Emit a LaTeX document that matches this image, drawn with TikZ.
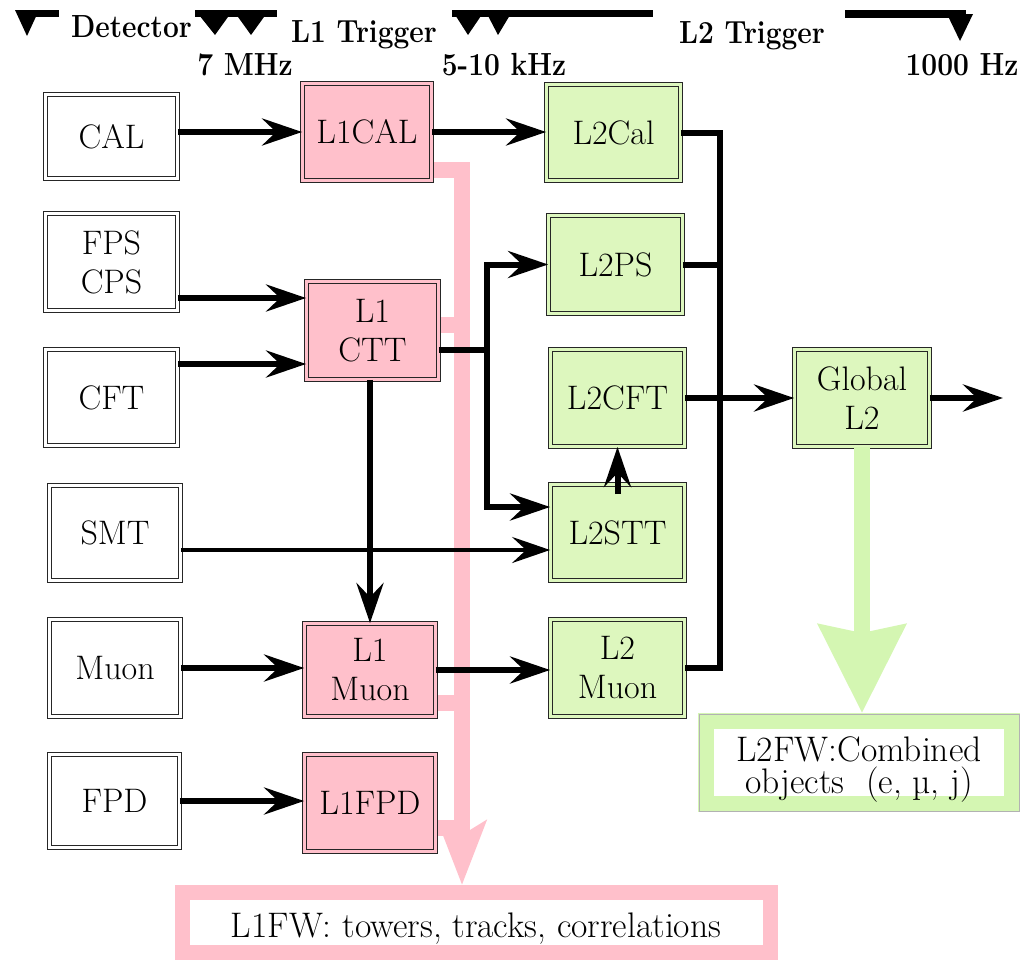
\documentclass[tikz,border=0pt]{standalone}
\usepackage{graphicx}
\usetikzlibrary{arrows.meta}
\definecolor{pinkc}{RGB}{255,192,203}
\definecolor{greenc}{RGB}{221,247,190}
\definecolor{greenb}{RGB}{212,246,178}
\newcommand\hdrtext[1]{\scalebox{0.88}[1]{#1}}
\begin{document}
\begin{tikzpicture}[x=1pt,y=-1pt,
  box/.style={draw=black!85, line width=1.2pt, double distance=3pt, inner sep=0pt, align=center, font=\fontsize{34}{39}\selectfont},
  wbox/.style={box, fill=white, double=white},
  pbox/.style={box, fill=pinkc, double=pinkc},
  gbox/.style={box, fill=greenc, double=greenc},
  arr/.style={line width=6pt, -{Stealth[length=40pt,width=27pt,inset=14pt]}},
  arrthin/.style={line width=4pt, -{Stealth[length=38pt,width=26pt,inset=14pt]}},
  wire/.style={line width=6pt, line join=miter},
  pinkbus/.style={pinkc, line width=16pt, line join=miter},
  hdr/.style={font=\fontsize{32}{36}\selectfont\bfseries, inner sep=0pt, anchor=base},
  fw/.style={inner sep=0pt, fill=white},
  fwtext/.style={inner sep=0pt, align=center, font=\fontsize{35.5}{32}\selectfont}
]
\useasboundingbox (0,0) rectangle (1026,969);

% header
\fill (18,10) rectangle (59,17);
\fill (15,10) -- (39,10) -- (27,36) -- cycle;
\fill (195,10) rectangle (277,17);
\fill (195,10) -- (233,10) -- (215,35) -- cycle;
\fill (233,10) -- (269,10) -- (251,35) -- cycle;
\fill (452,10) rectangle (653,17);
\fill (452,10) -- (485,10) -- (468,35) -- cycle;
\fill (485,10) -- (513,10) -- (498,35) -- cycle;
\fill (845,10) rectangle (966,18);
\fill (947,14) -- (973,14) -- (960,41) -- cycle;
\node[hdr] (hdet) at (131.5,37) {\hdrtext{Detector}};
\node[hdr] (hl1) at (364,42) {\hdrtext{L1 Trigger}};
\node[hdr] (hl2) at (752,43) {\hdrtext{L2 Trigger}};
\node[hdr] (f1) at (245,75) {\hdrtext{7 MHz}};
\node[hdr] (f2) at (504,75) {\hdrtext{5-10 kHz}};
\node[hdr] (f3) at (962,75) {\hdrtext{1000 Hz}};

% framework boxes
\node[fw, draw=pinkc, line width=15pt, minimum width=588pt, minimum height=60pt, outer sep=7.5pt] (L1FW) at (476.5,922.5) {};
\node[fwtext] (L1FWt) at (476,929) {L1FW: towers, tracks, correlations};
\node[fw, draw=greenb, line width=16pt, minimum width=306pt, minimum height=83pt, outer sep=8pt] (L2FW) at (859,762.5) {};
\draw[gray!60, line width=0.8pt] ([xshift=1pt,yshift=-1pt]L2FW.north west) rectangle ([xshift=-1pt,yshift=1pt]L2FW.south east);
\node[fwtext] (L2FWt) at (859,770) {L2FW:Combined\\objects~~(e, µ, j)};

% nodes
\node[wbox, minimum width=131.6pt, minimum height=83.6pt] (CAL) at (111.5,136.5) {CAL};
\node[wbox, minimum width=131.6pt, minimum height=96.6pt] (FPS) at (111.5,262) {FPS\\CPS};
\node[wbox, minimum width=131.6pt, minimum height=95.6pt] (CFT) at (111.5,397.5) {CFT};
\node[wbox, minimum width=130.6pt, minimum height=94.6pt] (SMT) at (115,533) {SMT};
\node[wbox, minimum width=130.6pt, minimum height=96.6pt] (Muon) at (115,668) {Muon};
\node[wbox, minimum width=129.6pt, minimum height=92.6pt] (FPD) at (114.5,801) {FPD};

\coordinate (bx) at (462,0);
% pink bus (behind boxes)
\draw[pinkbus, -{Stealth[length=64pt,width=48pt,inset=14pt]}] (434,170) -| (L1FW.north -| bx);
\draw[pinkbus] (438,325) -- (bx |- 0,325);
\draw[pinkbus] (436,703) -- (bx |- 0,703);
\draw[pinkbus] (436,828) -- (bx |- 0,828);

\node[pbox, minimum width=128.6pt, minimum height=96.6pt] (L1CAL) at (367,132) {L1CAL};
\node[pbox, minimum width=131.6pt, minimum height=97.6pt] (L1CTT) at (372.5,330.5) {L1\\CTT};
\node[pbox, minimum width=130.6pt, minimum height=92.6pt] (L1Muon) at (370,670) {L1\\Muon};
\node[pbox, minimum width=130.6pt, minimum height=96.6pt] (L1FPD) at (370,803) {L1FPD};

\node[gbox, minimum width=133.6pt, minimum height=95.6pt] (L2Cal) at (613.5,132.5) {L2Cal};
\node[gbox, minimum width=133.6pt, minimum height=97.6pt] (L2PS) at (615.5,264.5) {L2PS};
\node[gbox, minimum width=133.6pt, minimum height=96.6pt] (L2CFT) at (617.5,398) {L2CFT};
\node[gbox, minimum width=133.6pt, minimum height=95.6pt] (L2STT) at (617.5,532.5) {L2STT};
\node[gbox, minimum width=133.6pt, minimum height=96.6pt] (L2Muon) at (617.5,668) {L2\\Muon};
\node[gbox, minimum width=134.6pt, minimum height=96.6pt] (Global) at (862,398) {Global\\L2};

% green arrow
\draw[greenb, line width=16pt, -{Stealth[length=88pt,width=86pt,inset=8pt]}] (Global.south) -- (Global.south |- L2FW.north);

% black connectors
\draw[arr] (CAL.east |- L1CAL.west) -- (L1CAL.west);
\draw[arr] (L1CAL.east) -- (L1CAL.east -| L2Cal.west);
\draw[arr] ([yshift=-36pt]FPS.east) -- ([yshift=-36pt]FPS.east -| L1CTT.west);
\draw[arr] ([yshift=33.5pt]CFT.east) -- ([yshift=33.5pt]CFT.east -| L1CTT.west);
\draw[arrthin] ([yshift=-17pt]SMT.east) -- ([yshift=-17pt]SMT.east -| L2STT.west);
\draw[arr] (Muon.east) -- (Muon.east -| L1Muon.west);
\draw[arr] (FPD.east) -- (FPD.east -| L1FPD.west);
\draw[arr] (L1Muon.east) -- (L1Muon.east -| L2Muon.west);
\draw[arr] (L1CTT.south -| L1Muon.north) -- (L1Muon.north);

\coordinate (ctx) at (487,350);
\draw[wire] ([yshift=-19.5pt]L1CTT.east) -- (ctx);
\draw[arr, line join=miter] (ctx) |- (L2PS.west);
\draw[arr, line join=miter] (ctx) |- ([yshift=25.5pt]L2STT.west);
\draw[arr] ([yshift=-10pt]L2STT.north) -- (L2CFT.south);

\coordinate (b2) at (720,0);
\draw[wire] (L2Cal.east) -| (b2 |- L2Muon.east) -- (L2Muon.east);
\draw[wire] (L2PS.east) -- (L2PS.east -| b2);
\draw[arr] (L2CFT.east) -- (Global.west);
\coordinate (gout) at (1003,398);
\draw[arr] (Global.east) -- (gout);
\end{tikzpicture}
\end{document}
